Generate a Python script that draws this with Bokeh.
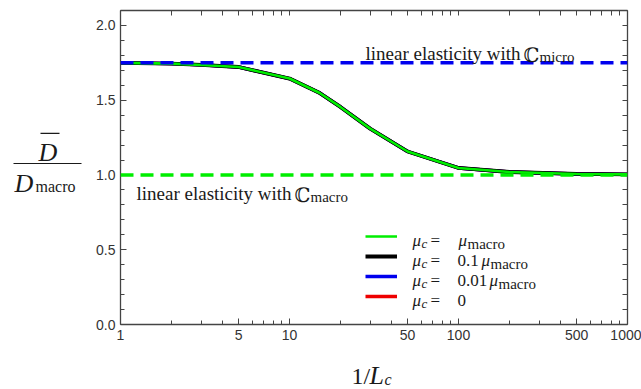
from bokeh.plotting import figure
from bokeh.layouts import row, column
from bokeh.models import (Span, Label, BoxAnnotation, Legend, LegendItem, LogAxis,
                          LinearAxis, FixedTicker, Range1d, NumeralTickFormatter)
from bokeh.embed import file_html
from bokeh.resources import INLINE

# ---------------- data ----------------
inv_Lc = [1, 2, 3, 5, 10, 15, 20, 30, 50, 100, 200, 500, 1000]
D_mu_macro = [1.750, 1.745, 1.736, 1.722, 1.645, 1.550, 1.455, 1.310, 1.157, 1.047, 1.020, 1.007, 1.004]
D_mu_01 = [1.750, 1.745, 1.736, 1.722, 1.645, 1.550, 1.455, 1.310, 1.157, 1.047, 1.020, 1.007, 1.004]
D_mu_001 = [1.750, 1.745, 1.736, 1.722, 1.645, 1.550, 1.455, 1.310, 1.157, 1.047, 1.020, 1.007, 1.004]
D_mu_0 = [1.750, 1.745, 1.736, 1.722, 1.645, 1.550, 1.455, 1.310, 1.157, 1.047, 1.020, 1.007, 1.004]

micro_level = 1.75
macro_level = 1.0

x_major = [1, 5, 10, 50, 100, 500, 1000]
x_minor = [2, 3, 4, 6, 7, 8, 9, 20, 30, 40, 60, 70, 80, 90,
           200, 300, 400, 600, 700, 800, 900]
y_major = [0.0, 0.5, 1.0, 1.5, 2.0]
y_minor = [0.1, 0.2, 0.3, 0.4, 0.6, 0.7, 0.8, 0.9, 1.1, 1.2, 1.3, 1.4,
           1.6, 1.7, 1.8, 1.9, 2.1]

GREEN = "#00ee00"
BLUE = "#0000ee"
RED = "#ee0000"
AX = "#444444"
INK = "#1a1a1a"
SERIF = "Liberation Serif"

# page geometry
LEFT_W = 82          # width of the y-label panel
MAIN_H = 350         # height of the main figure
BOTTOM_H = 389 - MAIN_H
FL, FB = 120, 324    # frame left / bottom on the page

# ---------------- main figure ----------------
p = figure(width=641 - LEFT_W, height=MAIN_H, x_axis_type="log",
           x_range=Range1d(1, 1000), y_range=Range1d(0, 2.1),
           output_backend="svg", toolbar_location=None,
           min_border_left=FL - LEFT_W, min_border_right=14, min_border_top=10,
           min_border_bottom=MAIN_H - FB)
p.grid.visible = False
p.outline_line_color = None


def style_axis(ax, labels=True):
    ax.axis_line_color = AX
    ax.axis_line_width = 1.3
    ax.major_tick_line_color = AX
    ax.minor_tick_line_color = AX
    ax.major_tick_line_width = 1
    ax.minor_tick_line_width = 1
    ax.major_tick_in = 6
    ax.major_tick_out = 0
    ax.minor_tick_in = 4 if labels else 5
    ax.minor_tick_out = 0
    ax.major_label_text_font = "Liberation Sans"
    ax.major_label_text_font_size = "14px"
    ax.major_label_text_color = "#333333"
    ax.major_label_standoff = 5


p.xaxis.ticker = FixedTicker(ticks=x_major, minor_ticks=x_minor)
p.xaxis.formatter = NumeralTickFormatter(format="0")
p.yaxis.ticker = FixedTicker(ticks=y_major, minor_ticks=y_minor)
p.yaxis.formatter = NumeralTickFormatter(format="0.0")
style_axis(p.xaxis[0])
style_axis(p.yaxis[0])

# frame sides without labels: only tick marks
top = LogAxis(ticker=FixedTicker(ticks=[], minor_ticks=x_major + x_minor))
style_axis(top, labels=False)
p.add_layout(top, "above")
right = LinearAxis(ticker=FixedTicker(ticks=[], minor_ticks=y_major + y_minor))
style_axis(right, labels=False)
p.add_layout(right, "right")

# curves (all four coincide; green is drawn on top)
r_red = p.line(inv_Lc, D_mu_0, line_color=RED, line_width=3.4)
r_blue = p.line(inv_Lc, D_mu_001, line_color=BLUE, line_width=3.4)
r_black = p.line(inv_Lc, D_mu_01, line_color="black", line_width=3.8)
r_green = p.line(inv_Lc, D_mu_macro, line_color=GREEN, line_width=2.6)

p.add_layout(Span(location=micro_level, dimension="width", line_color=BLUE,
                  line_width=3.5, line_dash="13 7"))
p.add_layout(Span(location=macro_level, dimension="width", line_color=GREEN,
                  line_width=3.5, line_dash="13 7"))

legend = Legend(items=[LegendItem(label=" ", renderers=[r]) for r in
                       (r_green, r_black, r_blue, r_red)],
                location=(245, 18), glyph_width=32, glyph_height=20,
                label_height=20, label_width=0, label_standoff=0, spacing=0,
                padding=0, margin=0, border_line_alpha=0,
                background_fill_alpha=0, label_text_font_size="1px")
p.add_layout(legend)


def txt(px, py, s, size, italic=False, font=SERIF):
    """Text inside the main frame, placed by page pixel of its baseline start."""
    p.add_layout(Label(x=px - FL, y=FB - py, x_units="screen", y_units="screen",
                       text=s, text_font=font, text_font_size=f"{size}px",
                       text_font_style="italic" if italic else "normal",
                       text_baseline="alphabetic", text_align="left",
                       text_color=INK))


# annotations on the reference lines
txt(365, 53, "linear elasticity with", 19)
txt(523, 54, "ℂ", 20, font="DejaVu Serif")
txt(539, 56, "micro", 15)
txt(136, 193, "linear elasticity with", 19)
txt(294, 194, "ℂ", 20, font="DejaVu Serif")
txt(310, 196, "macro", 15)

# legend texts
rows = [240, 260, 280, 300]
legend_rhs = [("", 458, 467), ("0.1", 481, 490), ("0.01", 489, 498), ("0", None, None)]
for yb, (num, mux, subx) in zip(rows, legend_rhs):
    txt(412, yb, "μ", 17, italic=True)
    txt(421, yb + 3, "c", 13, italic=True)
    txt(430, yb, "=", 17)
    if num:
        txt(457, yb, num, 17)
    if mux is not None:
        txt(mux, yb, "μ", 17, italic=True)
        txt(subx, yb + 3, "macro", 15)


# ---------------- side panels for the axis titles ----------------
def blank(width, height):
    f = figure(width=width, height=height, x_range=Range1d(0, width),
               y_range=Range1d(0, height), x_axis_location=None,
               y_axis_location=None, min_border=0, output_backend="svg",
               toolbar_location=None)
    f.grid.visible = False
    f.outline_line_color = None
    return f


pl = blank(LEFT_W, MAIN_H)
pb = blank(641, BOTTOM_H)


def ptxt(f, page_x, page_y, top_y, s, size, italic=False):
    f.add_layout(Label(x=page_x, y=f.height - (page_y - top_y), text=s,
                       text_font=SERIF, text_font_size=f"{size}px",
                       text_font_style="italic" if italic else "normal",
                       text_baseline="alphabetic", text_align="left",
                       text_color=INK))


def pbar(f, x0, x1, yc, top_y, th=1.2):
    yy = f.height - (yc - top_y)
    f.add_layout(BoxAnnotation(left=x0, right=x1, top=yy + th / 2, bottom=yy - th / 2,
                               fill_color=INK, fill_alpha=1, line_alpha=0))


# y-axis title: D-bar / D_macro
ptxt(pl, 38, 158, 0, "D", 26, italic=True)
pbar(pl, 40, 59, 137, 0)
pbar(pl, 13, 81, 170.5, 0)
ptxt(pl, 14, 193, 0, "D", 26, italic=True)
ptxt(pl, 35, 196, 0, "macro", 16)

# x-axis title: 1/L_c
ptxt(pb, 351, 375, MAIN_H, "1/", 24)
ptxt(pb, 369, 375, MAIN_H, "L", 26, italic=True)
ptxt(pb, 384, 379, MAIN_H, "c", 16, italic=True)

layout = column(row(pl, p, spacing=0), pb, spacing=0)

open("out.html", "w").write(file_html(layout, INLINE))
